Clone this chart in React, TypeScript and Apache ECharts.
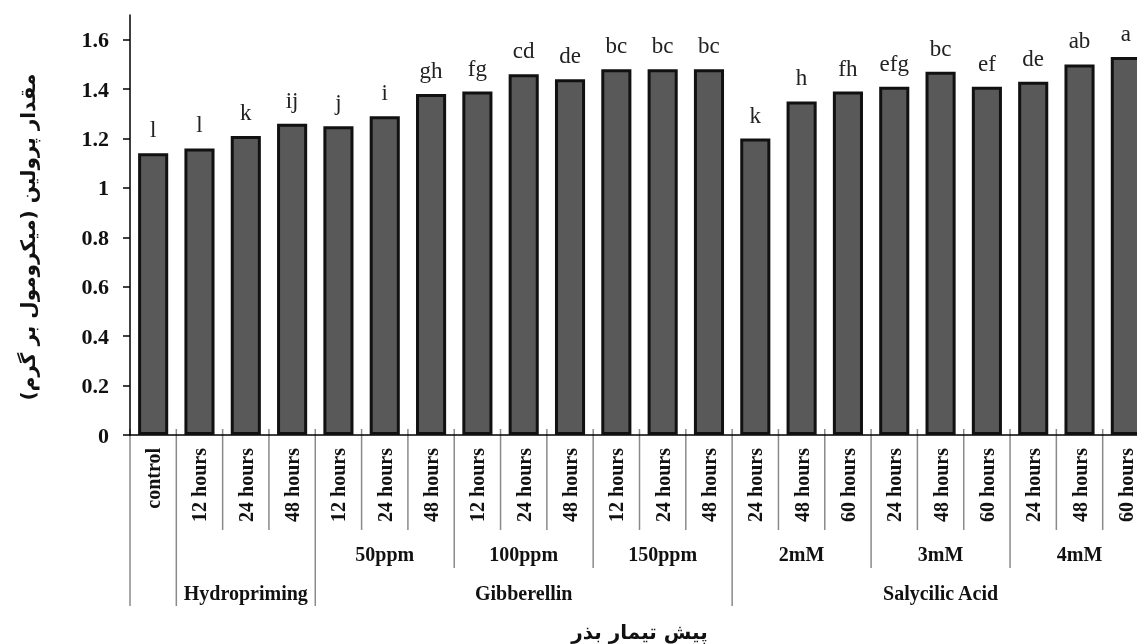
import React, { useEffect, useRef } from "react";
import * as echarts from "echarts";

const timeLabels = [
  "control",
  "12 hours", "24 hours", "48 hours",
  "12 hours", "24 hours", "48 hours",
  "12 hours", "24 hours", "48 hours",
  "12 hours", "24 hours", "48 hours",
  "24 hours", "48 hours", "60 hours",
  "24 hours", "48 hours", "60 hours",
  "24 hours", "48 hours", "60 hours",
];
const doseLabels = [
  "",
  "", "", "",
  "50ppm", "50ppm", "50ppm",
  "100ppm", "100ppm", "100ppm",
  "150ppm", "150ppm", "150ppm",
  "2mM", "2mM", "2mM",
  "3mM", "3mM", "3mM",
  "4mM", "4mM", "4mM",
];
const agentLabels = [
  "",
  "Hydropriming", "Hydropriming", "Hydropriming",
  "Gibberellin", "Gibberellin", "Gibberellin",
  "Gibberellin", "Gibberellin", "Gibberellin",
  "Gibberellin", "Gibberellin", "Gibberellin",
  "Salycilic Acid", "Salycilic Acid", "Salycilic Acid",
  "Salycilic Acid", "Salycilic Acid", "Salycilic Acid",
  "Salycilic Acid", "Salycilic Acid", "Salycilic Acid",
];
const prolineValues = [
  1.14,
  1.16, 1.21, 1.26,
  1.25, 1.29, 1.38,
  1.39, 1.46, 1.44,
  1.48, 1.48, 1.48,
  1.20, 1.35, 1.39,
  1.41, 1.47, 1.41,
  1.43, 1.50, 1.53,
];
const significanceLetters = [
  "l",
  "l", "k", "ij",
  "j", "i", "gh",
  "fg", "cd", "de",
  "bc", "bc", "bc",
  "k", "h", "fh",
  "efg", "bc", "ef",
  "de", "ab", "a",
];
const yTickValues = [0, 0.2, 0.4, 0.6, 0.8, 1, 1.2, 1.4, 1.6];
const yAxisMax = 1.7;
const yAxisTitle = "مقدار پرولین (میکرومول بر گرم)";
const xAxisTitle = "پیش تیمار بذر";

const serif = "'Liberation Serif', 'Times New Roman', serif";
const arabicFont = "'DejaVu Sans', sans-serif";

export default function App() {
  const ref = useRef<HTMLDivElement>(null);

  useEffect(() => {
    const chart = echarts.init(ref.current as HTMLDivElement, null, { renderer: "svg" });
    chart.setOption({
      animation: false,
      grid: {
        left: 130,
        width: 1019,
        top: 15,
        height: 420,
        containLabel: false,
        outerBoundsMode: "none",
      },
      xAxis: {
        type: "category",
        data: timeLabels,
        boundaryGap: true,
        axisLine: { show: true, lineStyle: { color: "#000", width: 1.5 } },
        axisTick: { show: false },
        axisLabel: {
          rotate: 90,
          interval: 0,
          margin: 13,
          fontFamily: serif,
          fontWeight: "bold",
          fontSize: 20,
          color: "#111",
        },
        name: xAxisTitle,
        nameLocation: "middle",
        nameGap: 187,
        nameTextStyle: { fontFamily: arabicFont, fontWeight: "bold", fontSize: 20, color: "#111" },
      },
      yAxis: {
        type: "value",
        min: 0,
        max: yAxisMax,
        splitLine: { show: false },
        axisLine: { show: true, lineStyle: { color: "#000", width: 1.5 } },
        axisTick: { show: true, length: 7, customValues: yTickValues, lineStyle: { color: "#000", width: 1.5 } },
        axisLabel: {
          customValues: yTickValues,
          margin: 21,
          fontFamily: serif,
          fontWeight: "bold",
          fontSize: 22,
          color: "#111",
        },
        name: yAxisTitle,
        nameLocation: "middle",
        nameGap: 92,
        nameRotate: 90,
        nameTextStyle: {
          fontFamily: arabicFont,
          fontWeight: "bold",
          fontSize: 20,
          color: "#111",
          padding: [0, 24, 0, 0],
        },
      },
      series: [
        {
          type: "bar",
          data: prolineValues,
          barCategoryGap: "35%",
          itemStyle: { color: "#595959", borderColor: "#111", borderWidth: 3 },
          label: {
            show: true,
            position: "top",
            distance: 12,
            formatter: (p: any) => significanceLetters[p.dataIndex],
            fontFamily: serif,
            fontSize: 23,
            color: "#222",
          },
        },
      ],
    });

    const n = timeLabels.length;
    const pos = (i: number) => chart.convertToPixel({ xAxisIndex: 0 }, i) as number;
    const y0 = chart.convertToPixel({ yAxisIndex: 0 }, 0) as number;
    const band = pos(1) - pos(0);
    const elements: any[] = [];

    for (let b = 0; b <= n; b++) {
      const x = b < n ? pos(b) - band / 2 : pos(n - 1) + band / 2;
      let depth = 95;
      if (b === 0 || b === n || agentLabels[b] !== agentLabels[b - 1]) depth = 171;
      else if (doseLabels[b] !== doseLabels[b - 1]) depth = 133;
      elements.push({
        type: "line",
        silent: true,
        shape: { x1: x, y1: y0 - 6, x2: x, y2: y0 + depth },
        style: { stroke: "#8a8a8a", lineWidth: 1.5 },
      });
    }

    const addRuns = (labels: string[], dy: number) => {
      let s = 0;
      for (let i = 1; i <= n; i++) {
        if (i === n || labels[i] !== labels[s]) {
          if (labels[s]) {
            const cx = (pos(s) + pos(i - 1)) / 2;
            elements.push({
              type: "text",
              silent: true,
              x: cx,
              y: y0 + dy,
              style: {
                text: labels[s],
                textAlign: "center",
                textVerticalAlign: "middle",
                fontFamily: serif,
                fontWeight: "bold",
                fontSize: 20,
                fill: "#111",
              },
            });
          }
          s = i;
        }
      }
    };
    addRuns(doseLabels, 119);
    addRuns(agentLabels, 158);

    chart.setOption({ graphic: elements });

    return () => chart.dispose();
  }, []);

  return <div ref={ref} style={{ position: "fixed", left: 0, top: 0, width: 1137, height: 644 }} />;
}
